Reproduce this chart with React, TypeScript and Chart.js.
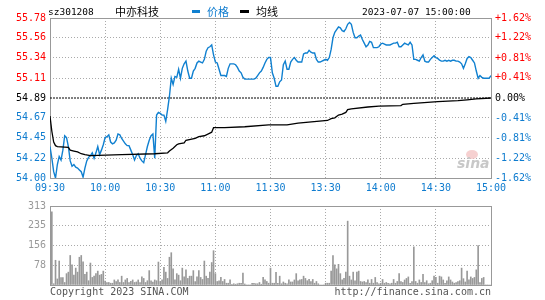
import React, { useEffect, useRef } from "react";
import { Chart, registerables } from "chart.js";

Chart.register(...registerables);

// ---- data ----
const timeTicks = [0, 30, 60, 90, 120, 150, 180, 210, 240];
const timeLabels = ["09:30", "10:00", "10:30", "11:00", "11:30", "13:30", "14:00", "14:30", "15:00"];

const priceTicks = [54.0, 54.22, 54.45, 54.67, 54.89, 55.11, 55.34, 55.56, 55.78];
const priceTickLabels = ["54.00", "54.22", "54.45", "54.67", "54.89", "55.11", "55.34", "55.56", "55.78"];
const pctTicks = [-1.62, -1.22, -0.81, -0.41, 0, 0.41, 0.81, 1.22, 1.62];
const pctTickLabels = ["-1.62%", "-1.22%", "-0.81%", "-0.41%", "0.00%", "+0.41%", "+0.81%", "+1.22%", "+1.62%"];
const volTicks = [0, 78, 156, 235, 313];
const volTickLabels = ["", "78", "156", "235", "313"];

const prevClose = 54.89;

// price per minute (09:30 .. 15:00, lunch removed)
const price = [
  54.35, 54.22, 54.07, 54.0, 54.15, 54.24, 54.2, 54.31, 54.47, 54.45,
  54.35, 54.19, 54.13, 54.15, 54.12, 54.11, 54.09, 54.07, 54.01, 54.11,
  54.19, 54.23, 54.25, 54.28, 54.22, 54.28, 54.35, 54.26, 54.31, 54.37,
  54.45, 54.46, 54.48, 54.4, 54.38, 54.39, 54.42, 54.49, 54.48, 54.44,
  54.41, 54.38, 54.36, 54.36, 54.31, 54.26, 54.2, 54.25, 54.27, 54.22,
  54.19, 54.17, 54.26, 54.35, 54.42, 54.47, 54.49, 54.22, 54.7, 54.73,
  54.72, 54.7, 54.7, 54.63, 54.76, 54.91, 55.11, 55.04, 55.13, 55.12,
  55.21, 55.11, 55.22, 55.27, 55.3, 55.19, 55.11, 55.11, 55.19, 55.22,
  55.28, 55.3, 55.29, 55.28, 55.32, 55.41, 55.45, 55.46, 55.48, 55.37,
  55.29, 55.28, 55.21, 55.14, 55.14, 55.14, 55.13, 55.22, 55.27, 55.27,
  55.27, 55.26, 55.23, 55.19, 55.17, 55.12, 55.1, 55.1, 55.1, 55.1,
  55.1, 55.1, 55.11, 55.14, 55.17, 55.19, 55.23, 55.28, 55.32, 55.34,
  55.34, 55.17, 55.11, 55.02, 55.02, 55.07, 55.09, 55.26, 55.3, 55.21,
  55.21, 55.29, 55.32, 55.34, 55.31, 55.29, 55.29, 55.29, 55.38, 55.39,
  55.39, 55.42, 55.4, 55.39, 55.39, 55.32, 55.29, 55.29, 55.3, 55.31,
  55.32, 55.31, 55.34, 55.43, 55.56, 55.62, 55.65, 55.68, 55.67, 55.64,
  55.63, 55.66, 55.71, 55.73, 55.71, 55.62, 55.56, 55.56, 55.58, 55.59,
  55.54, 55.5, 55.46, 55.48, 55.52, 55.51, 55.45, 55.45, 55.45, 55.46,
  55.49, 55.5, 55.49, 55.48, 55.48, 55.48, 55.49, 55.5, 55.5, 55.51,
  55.46, 55.46, 55.48, 55.5, 55.49, 55.48, 55.51, 55.48, 55.32, 55.32,
  55.31, 55.3, 55.34, 55.37, 55.3, 55.29, 55.29, 55.32, 55.34, 55.36,
  55.34, 55.33, 55.31, 55.3, 55.3, 55.31, 55.3, 55.31, 55.3, 55.31,
  55.31, 55.3, 55.3, 55.29, 55.27, 55.22, 55.27, 55.33, 55.35, 55.34,
  55.31, 55.28, 55.19, 55.11, 55.14, 55.12, 55.11, 55.11, 55.11, 55.11,
  55.14,
];

// average price line (minute, value)
const avgMinutes = [
  0, 1, 2, 3, 4, 10, 11, 13, 15, 17, 19, 22, 39, 57, 64, 65, 67, 69, 70, 73,
  74, 79, 81, 84, 87, 88, 89, 95, 106, 119, 129, 135, 151, 153, 155, 157, 159, 161, 162, 164,
  173, 179, 191, 192, 198, 211, 222, 227, 232, 240,
];
const avgValues = [
  54.69, 54.52, 54.4, 54.36, 54.35, 54.34, 54.31, 54.3, 54.29, 54.27, 54.26, 54.25, 54.26, 54.27, 54.28, 54.3, 54.33, 54.37, 54.38, 54.39,
  54.42, 54.44, 54.46, 54.47, 54.5, 54.51, 54.56, 54.56, 54.57, 54.59, 54.59, 54.61, 54.64, 54.66, 54.67, 54.7, 54.71, 54.73, 54.76, 54.77,
  54.79, 54.8, 54.805, 54.82, 54.83, 54.85, 54.86, 54.87, 54.88, 54.89,
];

// volume per minute
const volume = [
  297, 290, 5, 98, 24, 95, 29, 29, 10, 45,
  51, 117, 80, 39, 67, 51, 110, 117, 92, 42,
  51, 17, 87, 30, 35, 45, 55, 39, 42, 55,
  16, 10, 10, 7, 7, 20, 14, 20, 10, 35,
  10, 20, 26, 10, 15, 20, 10, 12, 20, 10,
  32, 26, 10, 17, 57, 17, 12, 20, 17, 91,
  14, 20, 70, 51, 26, 110, 128, 64, 20, 45,
  39, 17, 67, 32, 60, 26, 35, 35, 57, 14,
  32, 57, 30, 22, 95, 35, 26, 51, 89, 136,
  45, 14, 17, 30, 14, 22, 7, 7, 20, 3,
  5, 3, 5, 7, 7, 47, 4, 0, 0, 0,
  7, 7, 5, 5, 10, 3, 30, 20, 14, 7,
  67, 7, 7, 50, 7, 35, 5, 12, 7, 5,
  20, 12, 12, 20, 45, 17, 20, 22, 35, 26,
  17, 22, 14, 22, 7, 14, 5, 0, 0, 0,
  7, 7, 7, 55, 117, 80, 64, 82, 45, 20,
  26, 51, 253, 35, 20, 51, 17, 51, 55, 14,
  12, 14, 10, 20, 7, 22, 7, 30, 10, 5,
  7, 22, 7, 10, 7, 5, 7, 22, 7, 14,
  45, 14, 10, 20, 26, 32, 7, 14, 151, 14,
  7, 20, 10, 42, 10, 17, 5, 7, 17, 35,
  30, 7, 35, 32, 20, 7, 17, 32, 20, 12,
  7, 10, 14, 17, 67, 25, 12, 55, 20, 32,
  26, 30, 60, 156, 10, 26, 30, 0, 0, 0,
  0,
];

// ---- styles ----
const MONO = "'DejaVu Sans Mono', monospace";
const CJK = "'Noto Sans CJK SC', sans-serif";
const RED = "#ff0000";
const BLUE = "#0f7ccf";
const LINE_BLUE = "#1080d0";
const GRID = "#aaaaaa";
const FRAME = "#999999";
const VOL_GRAY = "#999999";
const CLEAR = "rgba(0,0,0,0)";

const framePlugin = {
  id: "frame",
  beforeDatasetsDraw(chart: any) {
    const { ctx, chartArea } = chart;
    const l = Math.round(chartArea.left);
    const t = Math.round(chartArea.top);
    const r = Math.round(chartArea.right);
    const b = Math.round(chartArea.bottom);
    ctx.save();
    ctx.strokeStyle = FRAME;
    ctx.lineWidth = 1;
    ctx.setLineDash([]);
    ctx.strokeRect(l + 0.5, t + 0.5, r - l, b - t);
    ctx.restore();
  },
};

const colorByIndex = (i: number, mid: number) => (i < mid ? BLUE : i === mid ? "#000000" : RED);

function xScale(showLabels: boolean) {
  return {
    type: "linear",
    min: 0,
    max: 240,
    offset: false,
    afterBuildTicks: (s: any) => {
      s.ticks = timeTicks.map((v) => ({ value: v }));
    },
    afterFit: (s: any) => {
      s.height = showLabels ? 18 : 0;
    },
    ticks: {
      display: showLabels,
      autoSkip: false,
      maxRotation: 0,
      padding: 4,
      color: BLUE,
      font: { family: MONO, size: 10 },
      callback: (_v: any, i: number) => timeLabels[i],
    },
    grid: {
      offset: false,
      drawTicks: false,
      color: (c: any) => (c.index === 0 || c.index === timeTicks.length - 1 ? CLEAR : GRID),
    },
    border: { display: false, dash: [1, 2] },
  };
}

export default function App() {
  const priceRef = useRef<HTMLCanvasElement>(null);
  const volRef = useRef<HTMLCanvasElement>(null);

  useEffect(() => {
    document.body.style.margin = "0";

    const priceChart = new Chart(priceRef.current as HTMLCanvasElement, {
      type: "line",
      data: {
        datasets: [
          {
            label: "均线",
            data: avgMinutes.map((m, i) => ({ x: m, y: avgValues[i] })),
            borderColor: "#000000",
            borderWidth: 1.3,
            pointRadius: 0,
            tension: 0,
            yAxisID: "y",
          },
          {
            label: "价格",
            data: price.map((v, i) => ({ x: i, y: v })),
            borderColor: LINE_BLUE,
            borderWidth: 1.4,
            pointRadius: 0,
            tension: 0,
            yAxisID: "y",
          },
          {
            label: "prev",
            data: [
              { x: 0, y: prevClose },
              { x: 240, y: prevClose },
            ],
            borderColor: "#000000",
            borderWidth: 1,
            borderDash: [2, 1],
            pointRadius: 0,
            yAxisID: "y",
          },
        ],
      },
      options: {
        responsive: false,
        animation: false,
        events: [],
        layout: { padding: { top: 18, left: 0, right: 0, bottom: 0 } },
        plugins: { legend: { display: false }, tooltip: { enabled: false } },
        scales: {
          x: xScale(true) as any,
          y: {
            type: "linear",
            position: "left",
            min: 54.0,
            max: 55.78,
            afterBuildTicks: (s: any) => {
              s.ticks = priceTicks.map((v) => ({ value: v }));
            },
            afterFit: (s: any) => {
              s.width = 50;
            },
            ticks: {
              padding: 4,
              font: { family: MONO, size: 10 },
              color: (c: any) => colorByIndex(c.index, 4),
              callback: (_v: any, i: number) => priceTickLabels[i],
            },
            grid: {
              drawTicks: false,
              color: (c: any) => (c.index === 0 || c.index === 4 || c.index === priceTicks.length - 1 ? CLEAR : GRID),
            },
            border: { display: false, dash: [1, 2] },
          },
          y2: {
            type: "linear",
            position: "right",
            min: -1.62,
            max: 1.62,
            afterBuildTicks: (s: any) => {
              s.ticks = pctTicks.map((v) => ({ value: v }));
            },
            afterFit: (s: any) => {
              s.width = 54;
            },
            ticks: {
              padding: 4,
              font: { family: MONO, size: 10 },
              color: (c: any) => colorByIndex(c.index, 4),
              callback: (_v: any, i: number) => pctTickLabels[i],
            },
            grid: { display: false, drawTicks: false },
            border: { display: false },
          },
        },
      } as any,
      plugins: [framePlugin],
    });

    const volChart = new Chart(volRef.current as HTMLCanvasElement, {
      type: "bar",
      data: {
        datasets: [
          {
            label: "成交量",
            data: volume.map((v, i) => ({ x: i, y: v })),
            backgroundColor: VOL_GRAY,
            borderWidth: 0,
            barThickness: 1,
          },
        ],
      },
      options: {
        responsive: false,
        animation: false,
        events: [],
        layout: { padding: { top: 5, left: 0, right: 54, bottom: 15 } },
        plugins: { legend: { display: false }, tooltip: { enabled: false } },
        scales: {
          x: xScale(false) as any,
          y: {
            type: "linear",
            position: "left",
            min: 0,
            max: 313,
            afterBuildTicks: (s: any) => {
              s.ticks = volTicks.map((v) => ({ value: v }));
            },
            afterFit: (s: any) => {
              s.width = 50;
            },
            ticks: {
              padding: 4,
              font: { family: MONO, size: 10 },
              color: VOL_GRAY,
              callback: (_v: any, i: number) => volTickLabels[i],
            },
            grid: {
              drawTicks: false,
              color: (c: any) => (c.index === 0 || c.index === volTicks.length - 1 ? CLEAR : GRID),
            },
            border: { display: false, dash: [1, 2] },
          },
        },
      } as any,
      plugins: [framePlugin],
    });

    return () => {
      priceChart.destroy();
      volChart.destroy();
    };
  }, []);

  const abs = (extra: React.CSSProperties): React.CSSProperties => ({
    position: "absolute",
    whiteSpace: "nowrap",
    ...extra,
  });

  return (
    <div style={{ position: "relative", width: 545, height: 300, background: "#ffffff", overflow: "hidden" }}>
      <canvas ref={priceRef} width={545} height={196} style={{ position: "absolute", left: 0, top: 0 }} />
      <canvas ref={volRef} width={545} height={104} style={{ position: "absolute", left: 0, top: 196 }} />

      <span style={abs({ left: 48, top: 6, fontFamily: MONO, fontSize: 9.5, lineHeight: "12px", color: "#000" })}>sz301208</span>
      <span style={abs({ left: 115, top: 5, fontFamily: CJK, fontSize: 11, lineHeight: "13px", color: "#000" })}>中亦科技</span>
      <span style={abs({ left: 192, top: 10, width: 8, height: 3, background: LINE_BLUE })} />
      <span style={abs({ left: 207, top: 5, fontFamily: CJK, fontSize: 11, lineHeight: "13px", color: BLUE })}>价格</span>
      <span style={abs({ left: 240, top: 10, width: 9, height: 3, background: "#000" })} />
      <span style={abs({ left: 256, top: 5, fontFamily: CJK, fontSize: 11, lineHeight: "13px", color: "#000" })}>均线</span>
      <span style={abs({ left: 362, top: 6, fontFamily: MONO, fontSize: 9.5, lineHeight: "12px", color: "#000" })}>2023-07-07 15:00:00</span>

      <span style={abs({ left: 466, top: 150, width: 12, height: 9, borderRadius: "50%", background: "#f4c4c4", opacity: 0.8 })} />
      <span style={abs({ left: 457, top: 155, fontFamily: "'DejaVu Sans', sans-serif", fontStyle: "italic", fontWeight: "bold", fontSize: 14, lineHeight: "16px", color: "#c8c8c8" })}>sina</span>

      <span style={abs({ left: 50, top: 286, fontFamily: MONO, fontSize: 10, lineHeight: "12px", color: "#555" })}>Copyright 2023 SINA.COM</span>
      <span style={abs({ right: 54, top: 286, fontFamily: MONO, fontSize: 10, lineHeight: "12px", color: "#555" })}>http://finance.sina.com.cn</span>
    </div>
  );
}
